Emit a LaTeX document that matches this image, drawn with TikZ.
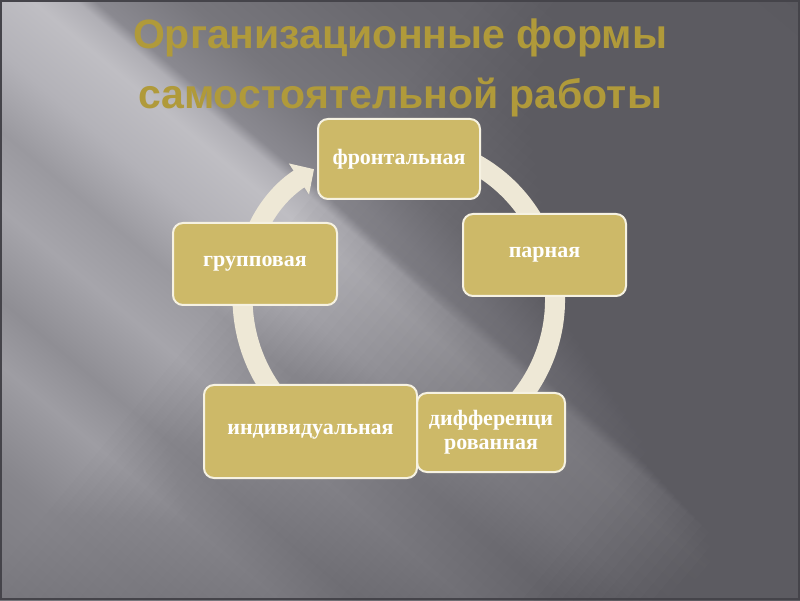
\documentclass[tikz,border=0pt]{standalone}
\usepackage{fontspec}
\setmainfont{Liberation Serif}
\newfontfamily\titlefont{Liberation Sans}
\usetikzlibrary{arrows.meta,calc}
\definecolor{sA}{HTML}{7A797F}
\definecolor{sB}{HTML}{87868C}
\definecolor{sC}{HTML}{9E9DA3}
\definecolor{sD}{HTML}{8F8E94}
\definecolor{sE}{HTML}{A6A5AB}
\definecolor{sF}{HTML}{9A999F}
\definecolor{sG}{HTML}{B3B2B8}
\definecolor{sH}{HTML}{BFBEC3}
\definecolor{sI}{HTML}{B0AFB5}
\definecolor{sJ}{HTML}{8A8990}
\definecolor{sK}{HTML}{77767C}
\definecolor{sL}{HTML}{69686E}
\definecolor{sM}{HTML}{5A595F}
\definecolor{darkover}{HTML}{5C5B61}
\definecolor{framecol}{HTML}{45444A}
\definecolor{ringcol}{HTML}{EEE8D6}
\definecolor{boxfill}{HTML}{CDB968}
\definecolor{boxedge}{HTML}{F6F2E2}
\definecolor{titlecol}{HTML}{B09A3A}
\pgfdeclarehorizontalshading{bgshade}{100bp}{color(0bp)=(sA); color(25.65bp)=(sA); color(30.65bp)=(sB); color(34.65bp)=(sC); color(37.15bp)=(sD); color(40.65bp)=(sE); color(43.65bp)=(sF); color(46.65bp)=(sG); color(49.65bp)=(sH); color(51.05bp)=(sI); color(51.65bp)=(sJ); color(54.65bp)=(sK); color(60.65bp)=(sL); color(74.25bp)=(sM); color(100bp)=(sM)}
\begin{document}
\begin{tikzpicture}[x=1pt,y=1pt,
  box/.style={draw=boxedge, line width=2pt, fill=boxfill, rounded corners=10pt,
    text=white, font=\bfseries\fontsize{22}{24}\selectfont, align=center, inner sep=0pt},
  titletext/.style={text=titlecol, font=\titlefont\bfseries\fontsize{41}{48}\selectfont, anchor=base, inner sep=0pt}]
\useasboundingbox (0,0) rectangle (800,600);
\begin{scope}
  \clip (0,0) rectangle (800,600);
  \shade[shading=bgshade, transform canvas={rotate around={50:(400,300)}}] (-100,-200) rectangle (900,800);
  % darkening toward the lower right, along the streaks
  \begin{scope}[rotate=-40]
    \foreach \u in {-20,-10,...,620}
      \fill[darkover, opacity=0.025] (\u,-1200) rectangle (1500,1200);
    \foreach \u in {400,410,...,620}
      \fill[darkover, opacity=0.04] (\u,-1200) rectangle (1500,1200);
  \end{scope}
\end{scope}
\draw[framecol, line width=2pt] (1,1) rectangle (799,599);
% title
\node[titletext] (title1) at (400,551) {Организационные формы};
\node[titletext] (title2) at (400,491) {самостоятельной работы};
% cycle ring
\coordinate (ctr) at (399,300);
\draw[ringcol, line width=20pt, -{Triangle[width=36pt,length=18pt]}]
  ($(ctr)+(118:156)$) arc[start angle=118, end angle=-237, radius=156];
% boxes
\node[box, minimum width=162, minimum height=80] (front) at (399,441) {фронтальная};
\node[box, minimum width=163, minimum height=82] (pair) at (544.5,345) {парная};
\node[box, minimum width=164, minimum height=82] (group) at (255,336) {групповая};
\node[box, minimum width=148, minimum height=79] (diff) at (491,167.5) {дифференци\\рованная};
\node[box, minimum width=213, minimum height=93] (indiv) at (310.5,168.5) {индивидуальная};
\end{tikzpicture}
\end{document}
